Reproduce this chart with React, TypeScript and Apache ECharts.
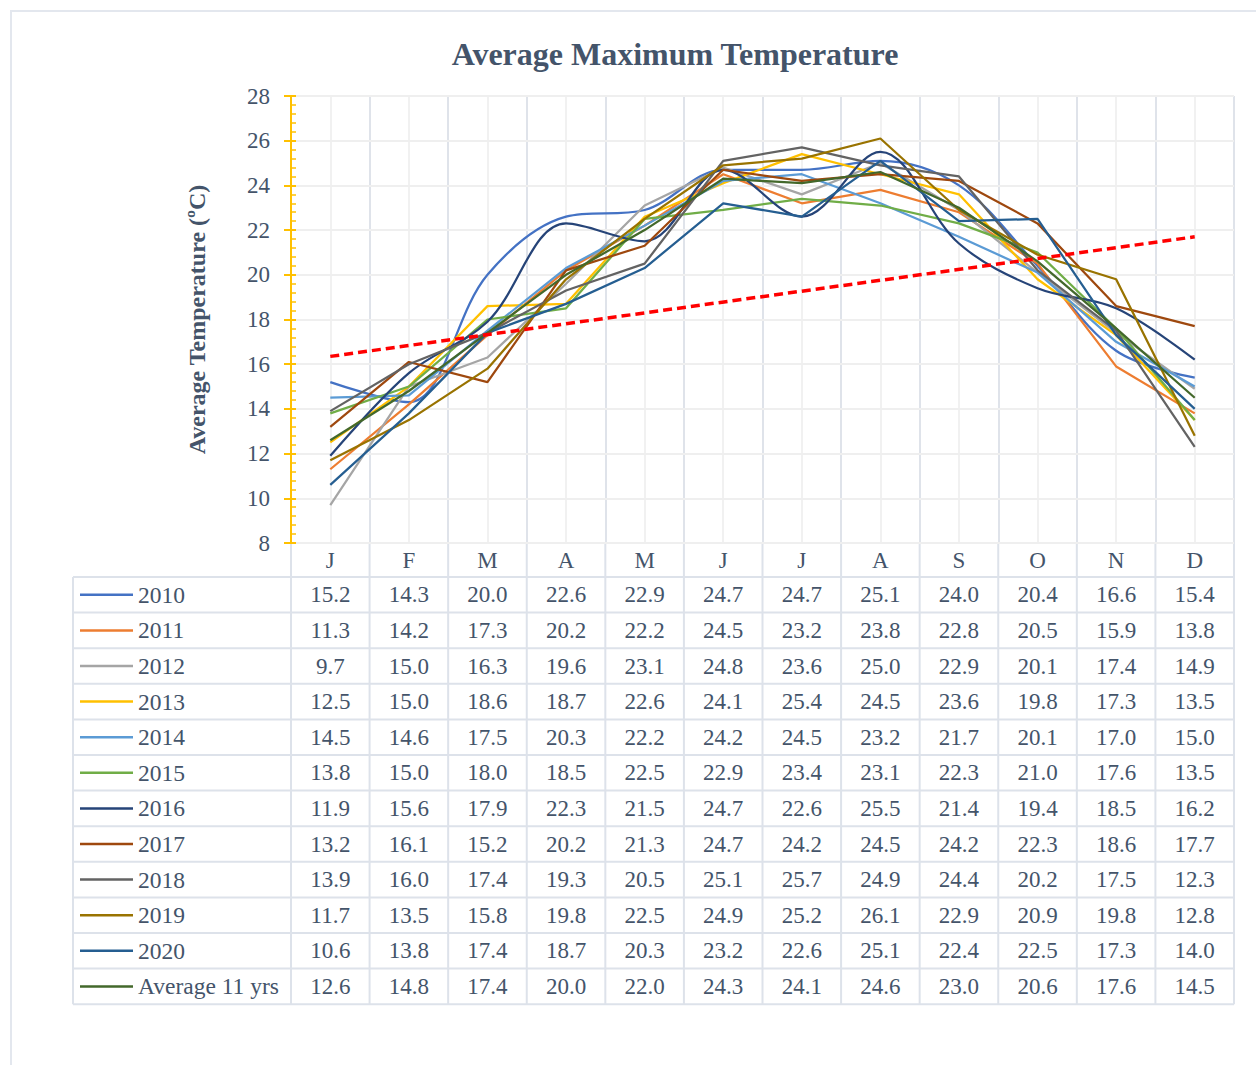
import React, { useEffect, useRef } from "react";
import * as echarts from "echarts";

const months = ["J", "F", "M", "A", "M", "J", "J", "A", "S", "O", "N", "D"];
const seriesNames = ["2010", "2011", "2012", "2013", "2014", "2015", "2016", "2017", "2018", "2019", "2020", "Average 11 yrs"];
const colors = ["#4472C4", "#ED7D31", "#A5A5A5", "#FFC000", "#5B9BD5", "#70AD47", "#264478", "#9E480E", "#636363", "#997300", "#255E91", "#43682B"];
const smoothFlags = [true, false, false, false, false, false, true, false, false, false, false, false];

const s2010 = [15.2, 14.3, 20.0, 22.6, 22.9, 24.7, 24.7, 25.1, 24.0, 20.4, 16.6, 15.4];
const s2011 = [11.3, 14.2, 17.3, 20.2, 22.2, 24.5, 23.2, 23.8, 22.8, 20.5, 15.9, 13.8];
const s2012 = [9.7, 15.0, 16.3, 19.6, 23.1, 24.8, 23.6, 25.0, 22.9, 20.1, 17.4, 14.9];
const s2013 = [12.5, 15.0, 18.6, 18.7, 22.6, 24.1, 25.4, 24.5, 23.6, 19.8, 17.3, 13.5];
const s2014 = [14.5, 14.6, 17.5, 20.3, 22.2, 24.2, 24.5, 23.2, 21.7, 20.1, 17.0, 15.0];
const s2015 = [13.8, 15.0, 18.0, 18.5, 22.5, 22.9, 23.4, 23.1, 22.3, 21.0, 17.6, 13.5];
const s2016 = [11.9, 15.6, 17.9, 22.3, 21.5, 24.7, 22.6, 25.5, 21.4, 19.4, 18.5, 16.2];
const s2017 = [13.2, 16.1, 15.2, 20.2, 21.3, 24.7, 24.2, 24.5, 24.2, 22.3, 18.6, 17.7];
const s2018 = [13.9, 16.0, 17.4, 19.3, 20.5, 25.1, 25.7, 24.9, 24.4, 20.2, 17.5, 12.3];
const s2019 = [11.7, 13.5, 15.8, 19.8, 22.5, 24.9, 25.2, 26.1, 22.9, 20.9, 19.8, 12.8];
const s2020 = [10.6, 13.8, 17.4, 18.7, 20.3, 23.2, 22.6, 25.1, 22.4, 22.5, 17.3, 14.0];
const sAvg = [12.6, 14.8, 17.4, 20.0, 22.0, 24.3, 24.1, 24.6, 23.0, 20.6, 17.6, 14.5];
const trendEnds = [16.35, 21.7];

const allSeries = [s2010, s2011, s2012, s2013, s2014, s2015, s2016, s2017, s2018, s2019, s2020, sAvg];

const FONT = '"Liberation Serif", "Times New Roman", serif';
const TEXT = "#44546A";
const TABLE_LINE = "#DDE2EA";

export default function App() {
  const ref = useRef<HTMLDivElement>(null);
  useEffect(() => {
    document.body.style.margin = "0";
    const chart = echarts.init(ref.current!, undefined, { renderer: "svg" });
    const gridLeft = 291, gridTop = 96, gridW = 943, gridH = 447;

    const trendData = months.map((_, i) => (i === 0 ? trendEnds[0] : i === months.length - 1 ? trendEnds[1] : null));

    const option: any = {
      animation: false,
      backgroundColor: "#ffffff",
      title: {
        text: "Average Maximum Temperature",
        left: 670,
        top: 33,
        textAlign: "center",
        textStyle: { fontFamily: FONT, fontWeight: "bold", fontSize: 32, color: TEXT },
      },
      grid: { left: gridLeft, top: gridTop, width: gridW, height: gridH, containLabel: false },
      xAxis: [
        {
          type: "category",
          data: months,
          boundaryGap: true,
          z: 3,
          axisLine: { show: true, lineStyle: { color: TABLE_LINE, width: 2 } },
          axisTick: { show: false },
          axisLabel: { fontFamily: FONT, fontSize: 23, color: TEXT, margin: 17, verticalAlign: "middle", interval: 0 },
          splitLine: { show: true, lineStyle: { color: "#DFE3EA", width: 2 } },
        },
        {
          type: "value",
          min: 0,
          max: 24,
          interval: 1,
          show: true,
          position: "top",
          z: 1,
          axisLine: { show: false },
          axisTick: { show: false },
          axisLabel: { show: false },
          splitLine: { show: true, lineStyle: { color: "#F1F1F1", width: 2 } },
        },
      ],
      yAxis: [
        {
          type: "value",
          min: 8,
          max: 28,
          interval: 2,
          z: 4,
          name: "Average Temperature (ºC)",
          nameLocation: "middle",
          nameRotate: 90,
          nameGap: 82,
          nameTextStyle: { fontFamily: FONT, fontWeight: "bold", fontSize: 24, color: TEXT },
          axisLine: { show: true, lineStyle: { color: "#FFC000", width: 2 } },
          axisTick: { show: true, inside: true, length: 5, lineStyle: { color: "#FFC000", width: 2 } },
          minorTick: { show: true, splitNumber: 5, length: 5, lineStyle: { color: "#FFC000", width: 1.5 } },
          axisLabel: { fontFamily: FONT, fontSize: 23, color: TEXT, margin: 21 },
          splitLine: { show: true, lineStyle: { color: "#EFEFEF", width: 2 } },
        },
        {
          type: "value",
          min: 8,
          max: 28,
          interval: 2,
          position: "left",
          z: 4,
          axisLine: { show: false },
          axisTick: { show: true, inside: false, length: 7, lineStyle: { color: "#FFC000", width: 2 } },
          axisLabel: { show: false },
          splitLine: { show: false },
        },
      ],
      series: [
        ...allSeries.map((d, i) => ({
          name: seriesNames[i],
          type: "line",
          xAxisIndex: 0,
          yAxisIndex: 0,
          data: d,
          smooth: smoothFlags[i] ? 0.35 : false,
          symbol: "none",
          z: 5,
          lineStyle: { color: colors[i], width: 2.25 },
          itemStyle: { color: colors[i] },
        })),
        {
          name: "Trend",
          type: "line",
          xAxisIndex: 0,
          yAxisIndex: 0,
          data: trendData,
          connectNulls: true,
          symbol: "none",
          z: 6,
          lineStyle: { color: "#FF0000", width: 3.5, type: [9, 5] },
        },
      ],
    };
    chart.setOption(option);

    // Table built from the same data & axis scale
    const colCenters = months.map((_, i) => chart.convertToPixel({ xAxisIndex: 0 }, i) as number);
    const colW = colCenters[1] - colCenters[0];
    const tableLeft = 73;
    const headerTop = gridTop + gridH;
    const rowTop0 = 577;
    const rowH = 35.6;
    const nRows = seriesNames.length;
    const tableBottom = rowTop0 + nRows * rowH;
    const right = colCenters[11] + colW / 2;

    const g: any[] = [];
    g.push({
      type: "rect",
      shape: { x: 11, y: 11, width: 1300, height: 1100 },
      style: { fill: "none", stroke: "#E3E7EE", lineWidth: 2 },
      silent: true,
    });
    for (let k = 0; k <= nRows; k++) {
      const y = rowTop0 + k * rowH;
      g.push({ type: "line", shape: { x1: tableLeft, y1: y, x2: right, y2: y }, style: { stroke: TABLE_LINE, lineWidth: 2 } });
    }
    g.push({ type: "line", shape: { x1: tableLeft, y1: rowTop0, x2: tableLeft, y2: tableBottom }, style: { stroke: TABLE_LINE, lineWidth: 2 } });
    for (let c = 0; c <= 12; c++) {
      const x = colCenters[0] - colW / 2 + c * colW;
      g.push({ type: "line", shape: { x1: x, y1: headerTop, x2: x, y2: tableBottom }, style: { stroke: TABLE_LINE, lineWidth: 2 } });
    }
    seriesNames.forEach((name, r) => {
      const cy = rowTop0 + r * rowH + rowH / 2;
      g.push({ type: "line", shape: { x1: 80, y1: cy, x2: 133, y2: cy }, style: { stroke: colors[r], lineWidth: 2.5 } });
      g.push({
        type: "text",
        x: 138,
        y: cy,
        style: { text: name, fontFamily: FONT, fontSize: 23.5, fill: TEXT, textAlign: "left", textVerticalAlign: "middle" },
      });
      allSeries[r].forEach((v, i) => {
        g.push({
          type: "text",
          x: colCenters[i],
          y: cy,
          style: { text: v.toFixed(1), fontFamily: FONT, fontSize: 23, fill: TEXT, textAlign: "center", textVerticalAlign: "middle" },
        });
      });
    });
    chart.setOption({ graphic: { elements: g } });

    return () => chart.dispose();
  }, []);
  return <div ref={ref} style={{ width: 1256, height: 1065 }} />;
}
